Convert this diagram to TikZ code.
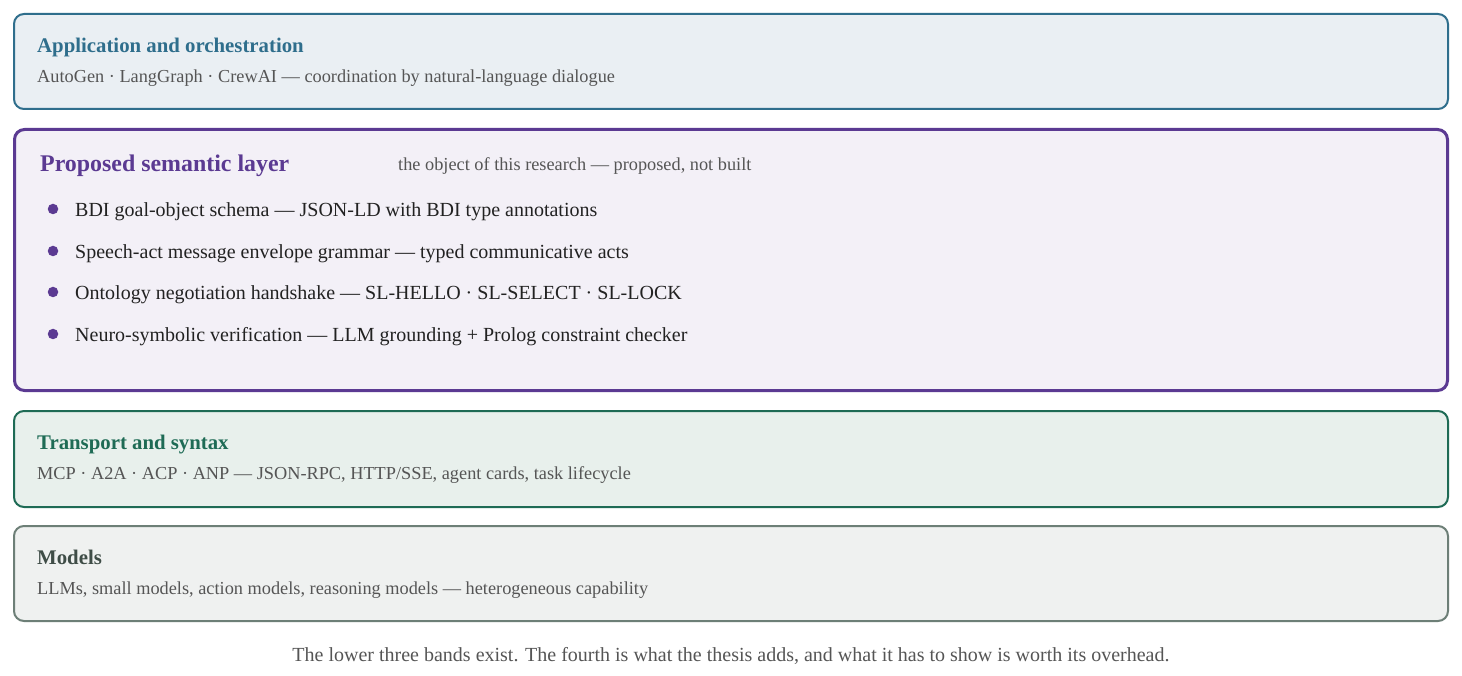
\documentclass[tikz,border=0pt]{standalone}
\usepackage{fontspec}
\setmainfont{Liberation Serif}
\definecolor{appc}{HTML}{2F6E8C}
\definecolor{appf}{HTML}{EAEFF3}
\definecolor{semc}{HTML}{5B3A92}
\definecolor{semf}{HTML}{F3F0F7}
\definecolor{trc}{HTML}{1E6B55}
\definecolor{trf}{HTML}{E8F0EC}
\definecolor{moc}{HTML}{6D7F77}
\definecolor{mof}{HTML}{EFF1F0}
\definecolor{modt}{HTML}{3F4D47}
\definecolor{subt}{HTML}{555555}
\definecolor{bodyt}{HTML}{222222}
\tikzset{
  band/.style={rounded corners=10pt, line width=2pt},
  bandtitle/.style={anchor=base west, inner sep=0pt, font=\fontsize{20.8}{22}\selectfont\bfseries},
  bandsub/.style={anchor=base west, inner sep=0pt, text=subt, font=\fontsize{18.3}{20}\selectfont},
  bullettext/.style={anchor=base west, inner sep=0pt, text=bodyt, font=\fontsize{20}{22}\selectfont},
  bulletdot/.style={circle, fill=semc, inner sep=0pt, minimum size=10.5pt},
}
\begin{document}
\begin{tikzpicture}[x=1pt,y=-1pt]
\useasboundingbox (0,0) rectangle (1462,676);
\fill[white] (0,0) rectangle (1462,676);
% band 1
\draw[band, draw=appc, fill=appf] (14,14) rectangle (1448,109);
\node[bandtitle, text=appc] (t1) at (37,52.5) {Application and orchestration};
\node[bandsub] (s1) at (37,82.5) {AutoGen · LangGraph · CrewAI — coordination by natural-language dialogue};
% band 2
\draw[band, line width=3pt, draw=semc, fill=semf] (14.5,129.5) rectangle (1447.5,390.5);
\node[anchor=base west, inner sep=0pt, text=semc, font=\fontsize{23.9}{26}\selectfont\bfseries] (t2) at (40,171.5) {Proposed semantic layer};
\node[bandsub] (s2) at (398,170.5) {the object of this research — proposed, not built};
\node[bulletdot] (d1) at (53,209) {};
\node[bullettext] (b1) at (75,216.5) {BDI goal-object schema — JSON-LD with BDI type annotations};
\node[bulletdot] (d2) at (53,251) {};
\node[bullettext] (b2) at (75,258.5) {Speech-act message envelope grammar — typed communicative acts};
\node[bulletdot] (d3) at (53,292) {};
\node[bullettext] (b3) at (75,299.5) {Ontology negotiation handshake — SL-HELLO · SL-SELECT · SL-LOCK};
\node[bulletdot] (d4) at (53,334) {};
\node[bullettext] (b4) at (75,341.5) {Neuro-symbolic verification — LLM grounding + Prolog constraint checker};
% band 3
\draw[band, draw=trc, fill=trf] (14,411) rectangle (1448,507);
\node[bandtitle, text=trc] (t3) at (37,449.5) {Transport and syntax};
\node[bandsub] (s3) at (37,479.5) {MCP · A2A · ACP · ANP — JSON-RPC, HTTP/SSE, agent cards, task lifecycle};
% band 4
\draw[band, draw=moc, fill=mof] (14,526) rectangle (1448,621);
\node[bandtitle, text=modt] (t4) at (37,564.5) {Models};
\node[bandsub] (s4) at (37,594.5) {LLMs, small models, action models, reasoning models — heterogeneous capability};
% caption
\node[anchor=base, inner sep=0pt, text=subt, font=\fontsize{20}{22}\selectfont] (cap) at (731,661.5) {The lower three bands exist. The fourth is what the thesis adds, and what it has to show is worth its overhead.};
\end{tikzpicture}
\end{document}
